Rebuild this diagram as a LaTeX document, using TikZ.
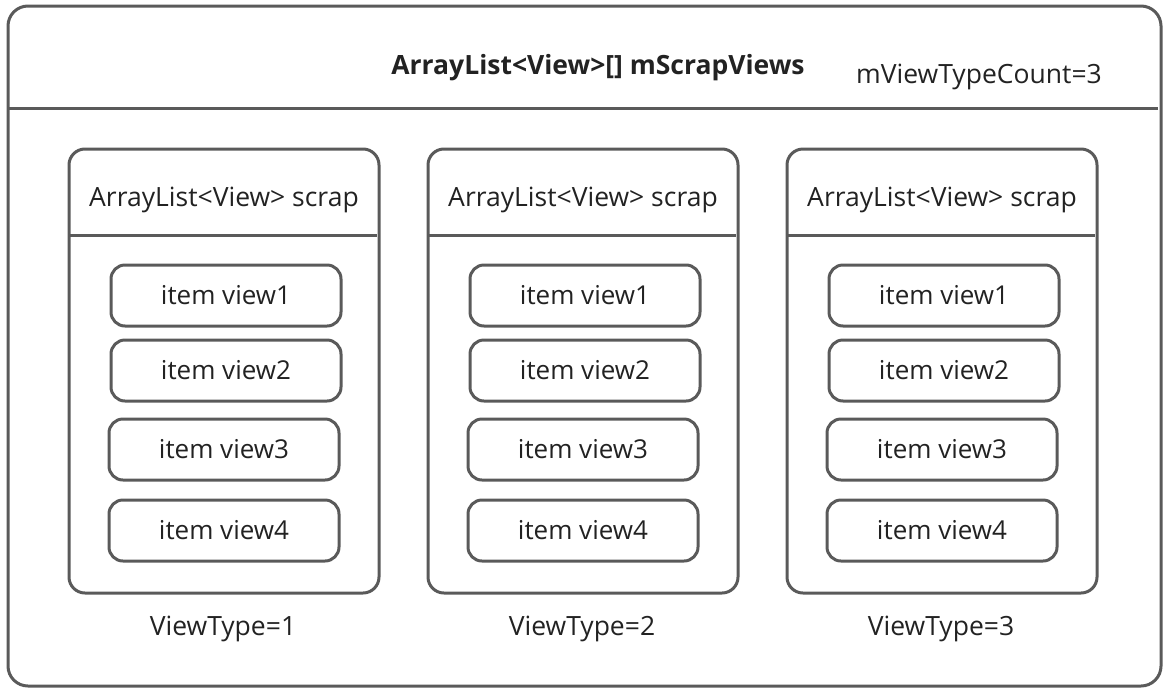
\documentclass[tikz,border=0pt]{standalone}
\usepackage{fontspec}
\setmainfont{Open Sans}
\definecolor{edge}{HTML}{5A5A5A}
\definecolor{ink}{HTML}{222222}
\begin{document}
\begin{tikzpicture}[x=1pt,y=-1pt,
  frame/.style={draw=edge,line width=3pt,rounded corners=20pt},
  colbox/.style={draw=edge,line width=3pt,rounded corners=16pt},
  itembox/.style={draw=edge,line width=3pt,rounded corners=14pt,minimum width=230pt,minimum height=61pt,inner sep=0pt,font=\fontsize{26}{30}\selectfont,text=ink},
  lbl/.style={font=\fontsize{26.5}{30}\selectfont,text=ink,inner sep=0pt}]
\useasboundingbox (0,0) rectangle (1174,691);
% outer frame and header divider
\draw[frame] (8,6) rectangle (1161,686);
\draw[edge,line width=3pt] (8,108) -- (1158,108);
\node[lbl,font=\bfseries\fontsize{26.5}{30}\selectfont] (title) at (598,68) {ArrayList<View>[] mScrapViews};
\node[lbl] (count) at (979,77) {mViewTypeCount=3};
% three scrap lists
\foreach \k/\x in {1/69,2/428,3/787} {
  \draw[colbox] (\x,149) rectangle ({\x+310},593);
  \draw[edge,line width=3pt] (\x,235) -- ({\x+308},235);
  \node[lbl] (head\k) at ({\x+155},200) {ArrayList<View> scrap};
  \node[itembox] (i\k a) at ({\x+157},295.5) {item view1};
  \node[itembox] (i\k b) at ({\x+157},370.5) {item view2};
  \node[itembox] (i\k c) at ({\x+155},449.5) {item view3};
  \node[itembox] (i\k d) at ({\x+155},530.5) {item view4};
  \node[lbl] (vt\k) at ({\x+154},629) {ViewType=\k};
}
\end{tikzpicture}
\end{document}
